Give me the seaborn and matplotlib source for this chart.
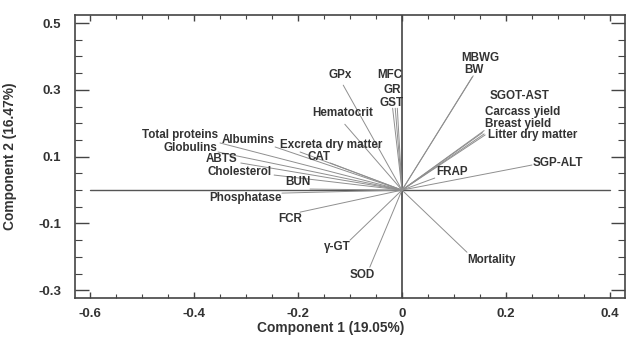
import matplotlib.pyplot as plt
import pandas as pd
import seaborn as sns
from matplotlib.ticker import MultipleLocator

# loadings
variables = [
    "Total proteins", "Globulins", "ABTS", "Cholesterol", "Albumins",
    "Excreta dry matter", "CAT", "BUN", "Phosphatase", "FCR", "γ-GT", "SOD",
    "Mortality", "FRAP", "SGP-ALT", "Litter dry matter", "Breast yield",
    "Carcass yield", "SGOT-AST", "BW", "MBWG", "GST", "GR", "MFC",
    "Hematocrit", "GPx",
]
comp1 = [
    -0.350, -0.354, -0.310, -0.246, -0.244,
    -0.196, -0.138, -0.177, -0.231, -0.196, -0.100, -0.062,
    0.125, 0.063, 0.250, 0.160, 0.158,
    0.155, 0.158, 0.135, 0.137, -0.009, -0.013, -0.018,
    -0.110, -0.113,
]
comp2 = [
    0.141, 0.114, 0.081, 0.045, 0.129,
    0.114, 0.081, 0.003, -0.009, -0.066, -0.150, -0.231,
    -0.186, 0.036, 0.075, 0.165, 0.168,
    0.172, 0.178, 0.338, 0.342, 0.245, 0.245, 0.245,
    0.197, 0.314,
]
x_ticks = [-0.6, -0.4, -0.2, 0, 0.2, 0.4]
x_tick_labels = ["-0.6", "-0.4", "-0.2", "0", "0.2", "0.4"]
y_ticks = [-0.3, -0.1, 0.1, 0.3, 0.5]
y_tick_labels = ["-0.3", "-0.1", "0.1", "0.3", "0.5"]

# label placement (pixels right/down from the vector tip) and alignment
label_offsets = [
    (-2, -8), (-1, -4), (-3, -4), (-2, -3), (0, -7),
    (31, -7), (-11, -6), (-12, -7), (0, 5), (-10, 7), (-13, 7), (-8, 8),
    (0, 8), (2, -6), (1, -2), (3, 0), (1, -10),
    (2, -21), (6, -35), (2, -7), (7, -18), (-6, -5), (-3, -18), (-3, -33),
    (-2, -11), (-3, -10),
]
label_ha = [
    "right", "right", "right", "right", "right",
    "center", "center", "center", "right", "center", "center", "center",
    "left", "left", "left", "left", "left",
    "left", "left", "center", "center", "center", "center", "center",
    "center", "center",
]

sns.set_theme(style="ticks")
plt.rcParams["font.family"] = ["Liberation Sans", "DejaVu Sans"]
plt.rcParams["axes.unicode_minus"] = False
text_color = "#333333"

rows = []
for name, x, y in zip(variables, comp1, comp2):
    rows.append({"var": name, "c1": 0.0, "c2": 0.0})
    rows.append({"var": name, "c1": x, "c2": y})
vec_df = pd.DataFrame(rows)

fig = plt.figure(figsize=(6.27, 3.37), dpi=100)
ax = fig.add_axes([75 / 627, 39 / 337, 550 / 627, 283 / 337])

ax.plot([-0.6, 0.4], [0, 0], color="#555555", linewidth=1.0, zorder=1)
ax.axvline(0, color="#444444", linewidth=1.2, zorder=1)

sns.lineplot(
    data=vec_df, x="c1", y="c2", units="var", estimator=None, sort=False,
    color="#8f8f8f", linewidth=0.7, ax=ax, zorder=2,
)

for name, x, y, (dx, dy), ha in zip(variables, comp1, comp2, label_offsets, label_ha):
    ax.annotate(
        name, (x, y), xytext=(dx, -dy), textcoords="offset pixels",
        ha=ha, va="center", fontsize=8.4, fontweight="bold", color=text_color,
    )

ax.set_xlim(-0.629, 0.429)
ax.set_ylim(-0.323, 0.524)
ax.set_xticks(x_ticks)
ax.set_xticklabels(x_tick_labels)
ax.xaxis.set_minor_locator(MultipleLocator(0.05))
ax.set_yticks(y_ticks)
ax.set_yticklabels(y_tick_labels)
ax.yaxis.set_minor_locator(MultipleLocator(0.05))

ax.tick_params(axis="x", which="major", direction="in", length=4, width=1,
               top=True, pad=7, labelsize=9.5, colors="#444444", labelcolor=text_color)
ax.tick_params(axis="x", which="minor", direction="in", length=3, width=0.8,
               top=True, colors="#444444")
ax.tick_params(axis="y", which="major", direction="in", length=10, width=1,
               right=True, pad=10, labelsize=9.5, colors="#444444", labelcolor=text_color)
ax.tick_params(axis="y", which="minor", direction="in", length=5, width=0.8,
               right=True, colors="#444444")
for lbl in ax.get_xticklabels() + ax.get_yticklabels():
    lbl.set_fontweight("bold")

for spine in ax.spines.values():
    spine.set_color("#444444")
    spine.set_linewidth(1.2)

ax.set_xlabel("Component 1 (19.05%)", fontsize=9.9, fontweight="bold", color=text_color)
ax.set_ylabel("Component 2 (16.47%)", fontsize=9.9, fontweight="bold", color=text_color)
ax.xaxis.set_label_coords(0.464, -0.082)
ax.yaxis.set_label_coords(-0.105, 0.5)

fig.savefig("out.png", dpi=100, facecolor="white")
plt.close(fig)
